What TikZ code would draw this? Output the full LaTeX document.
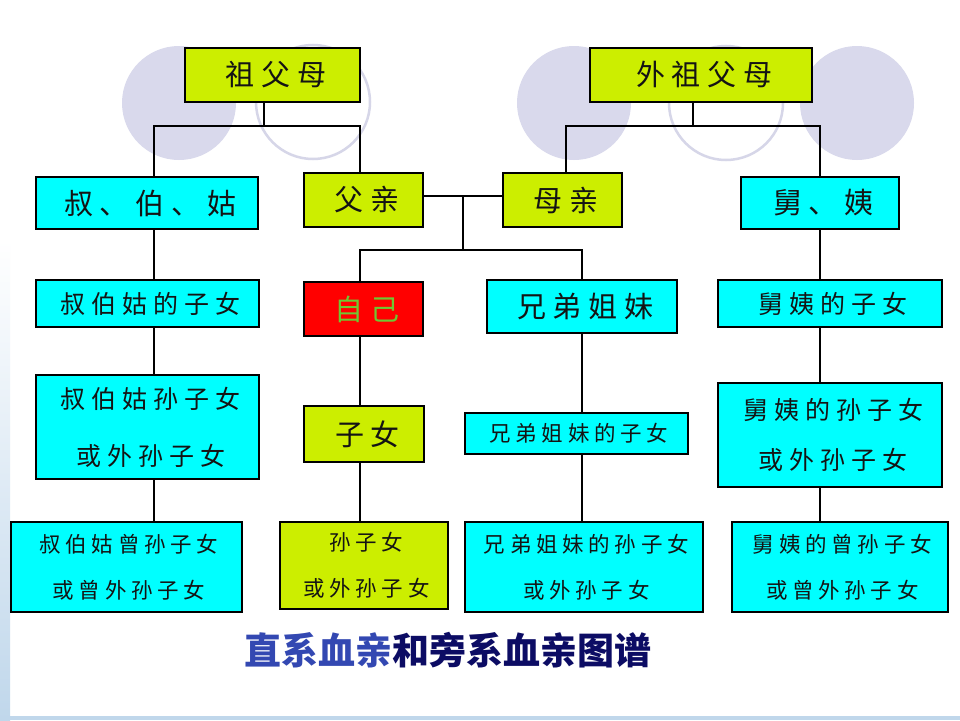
\documentclass[tikz,border=0pt]{standalone}
\usepackage{fontspec}
\setmainfont{Noto Sans CJK SC}
\usetikzlibrary{calc}
\definecolor{ygc}{RGB}{204,238,0}
\definecolor{cyc}{RGB}{0,255,255}
\definecolor{redc}{RGB}{255,0,0}
\definecolor{lav}{RGB}{217,217,236}
\definecolor{lavline}{RGB}{214,214,232}
\definecolor{tblue}{RGB}{51,72,178}
\definecolor{tnavy}{RGB}{12,12,100}
\definecolor{selfg}{RGB}{110,200,50}
\definecolor{edgeblue}{RGB}{192,215,235}
\definecolor{txt}{RGB}{20,20,20}
\def\lsv{.22}
\newcommand\E{\kern-\lsv em}
\begin{document}
\begin{tikzpicture}[x=1pt,y=-1pt,
  box/.style={draw=black,line width=1.4pt,inner sep=0pt,text=txt,align=center},
  ygbox/.style={box,fill=ygc},
  cybox/.style={box,fill=cyc},
  bigtxt/.style={font=\fontsize{29}{32}\selectfont\addfontfeature{LetterSpace=24}\def\lsv{.24}},
  medtxt/.style={font=\fontsize{25}{57}\selectfont\addfontfeature{LetterSpace=24}\def\lsv{.24}},
  medtxtb/.style={font=\fontsize{25}{50}\selectfont\addfontfeature{LetterSpace=24}\def\lsv{.24}},
  smalltxt/.style={font=\fontsize{21.5}{46}\selectfont\addfontfeature{LetterSpace=22}\def\lsv{.22}},
  conn/.style={draw=black,line width=1.4pt},
  disc/.style={fill=lav},
  ring/.style={draw=lavline,line width=2.5pt}]
\useasboundingbox (0,0) rectangle (960,720);
\fill[white] (0,0) rectangle (960,720);
\shade[top color=white,bottom color=edgeblue] (0,240) rectangle (10,720);
\fill[edgeblue] (0,716) rectangle (960,720);
% background circles
\fill[disc] (179,103) circle[radius=57];
\draw[ring] (313,102) circle[radius=57];
\fill[disc] (574,103) circle[radius=57];
\draw[ring] (726,103) circle[radius=57];
\fill[disc] (857,103) circle[radius=57];
% nodes
\node[ygbox,bigtxt,minimum width=175,minimum height=54] (gp) at (272.5,75) {祖父母\E};
\node[ygbox,bigtxt,minimum width=222,minimum height=54] (wgp) at (701,75) {外祖父母\E};
\node[cybox,bigtxt,minimum width=222,minimum height=52] (shu) at (147,203) {叔、伯、姑\E};
\node[ygbox,bigtxt,minimum width=119,minimum height=54] (fu) at (363.5,200) {父亲\E};
\node[ygbox,bigtxt,minimum width=119,minimum height=54] (mu) at (562.5,200) {母亲\E};
\node[cybox,bigtxt,minimum width=158,minimum height=52] (jiu) at (820,203) {舅、姨\E};
\node[cybox,medtxt,minimum width=223,minimum height=47] (shuzi) at (147.5,303.5) {叔伯姑的子女\E};
\node[box,fill=redc,bigtxt,text=selfg,minimum width=119,minimum height=54] (self) at (363.5,309) {自己\E};
\node[cybox,bigtxt,minimum width=190,minimum height=53] (xd) at (582,306.5) {兄弟姐妹\E};
\node[cybox,medtxt,minimum width=224,minimum height=47] (jz) at (830,303.5) {舅姨的子女\E};
\node[cybox,medtxt,minimum width=223,minimum height=104] (shusun) at (147.5,427) {叔伯姑孙子女\E\\或外孙子女\E};
\node[ygbox,bigtxt,minimum width=120,minimum height=56] (zinv) at (364,434) {子女\E};
\node[cybox,smalltxt,minimum width=223,minimum height=41] (xdz) at (576.5,433.5) {兄弟姐妹的子女\E};
\node[cybox,medtxtb,minimum width=224,minimum height=104] (js) at (830,435) {舅姨的孙子女\E\\或外孙子女\E};
\node[cybox,smalltxt,minimum width=231,minimum height=90] (shuceng) at (126.5,567) {叔伯姑曾孙子女\E\\或曾外孙子女\E};
\node[ygbox,smalltxt,minimum width=168,minimum height=87] (sun) at (364,565.5) {孙子女\E\\或外孙子女\E};
\node[cybox,smalltxt,minimum width=238,minimum height=90] (xds) at (584,567) {兄弟姐妹的孙子女\E\\或外孙子女\E};
\node[cybox,smalltxt,minimum width=216,minimum height=90] (jc) at (840,567) {舅姨的曾孙子女\E\\或曾外孙子女\E};
\node[inner sep=0pt,font=\fontsize{37}{40}\selectfont\bfseries] (title) at (447.5,650) {\textcolor{tblue}{直系血亲}\textcolor{tnavy}{和旁系血亲图谱}};
% connector columns
\coordinate (cL) at (154,0);
\coordinate (cM) at (360,0);
\coordinate (cB) at (582,0);
\coordinate (cR) at (820,0);
\coordinate (cMu) at (566,0);
\coordinate (gpj) at (264,126);
\coordinate (wgpj) at (693,126);
\coordinate (pj) at (463,196);
\coordinate (cj) at (463,250);
% connectors
\draw[conn] (gp.south -| gpj) -- (gpj);
\draw[conn] (shu.north -| cL) |- (gpj) -| (fu.north -| cM);
\draw[conn] (wgp.south -| wgpj) -- (wgpj);
\draw[conn] (mu.north -| cMu) |- (wgpj) -| (jiu.north -| cR);
\draw[conn] (fu.east |- pj) -- (mu.west |- pj);
\draw[conn] (pj) -- (cj);
\draw[conn] (self.north -| cM) |- (cj) -| (xd.north -| cB);
\draw[conn] (shu.south -| cL) -- (shuzi.north -| cL);
\draw[conn] (shuzi.south -| cL) -- (shusun.north -| cL);
\draw[conn] (shusun.south -| cL) -- (shuceng.north -| cL);
\draw[conn] (self.south -| cM) -- (zinv.north -| cM);
\draw[conn] (zinv.south -| cM) -- (sun.north -| cM);
\draw[conn] (xd.south -| cB) -- (xdz.north -| cB);
\draw[conn] (xdz.south -| cB) -- (xds.north -| cB);
\draw[conn] (jiu.south -| cR) -- (jz.north -| cR);
\draw[conn] (jz.south -| cR) -- (js.north -| cR);
\draw[conn] (js.south -| cR) -- (jc.north -| cR);
\end{tikzpicture}
\end{document}
